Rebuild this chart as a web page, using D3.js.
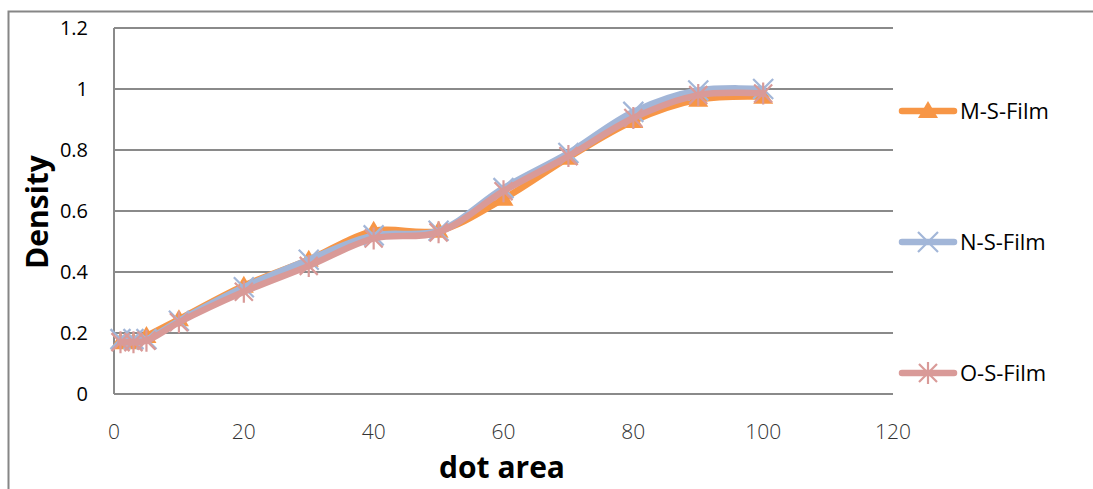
<!doctype html>
<html lang="en">
  <head>
    <meta charset="UTF-8" />
    <title>Density vs dot area</title>
    <script src="https://d3js.org/d3.v7.min.js"></script>
    <style>
      body {
        margin: 0;
        padding: 0;
        overflow: hidden;
        background: #fff;
        font-family: "Open Sans", Arial, sans-serif;
      }
      svg {
        display: block;
      }
    </style>
  </head>
  <body>
    <script>
      const dotArea = [1, 3, 5, 10, 20, 30, 40, 50, 60, 70, 80, 90, 100];
      const mFilm = [0.17, 0.17, 0.19, 0.245, 0.355, 0.44, 0.535, 0.535, 0.64, 0.775, 0.895, 0.965, 0.975];
      const nFilm = [0.18, 0.18, 0.18, 0.24, 0.35, 0.44, 0.52, 0.535, 0.675, 0.79, 0.925, 0.995, 1.0];
      const oFilm = [0.17, 0.17, 0.175, 0.235, 0.335, 0.42, 0.51, 0.53, 0.665, 0.78, 0.905, 0.98, 0.985];
      const seriesNames = ["M-S-Film", "N-S-Film", "O-S-Film"];
      const yTicks = [0, 0.2, 0.4, 0.6, 0.8, 1, 1.2];
      const xTicks = [0, 20, 40, 60, 80, 100, 120];

      const width = 1093;
      const height = 489;

      const series = [
        { name: seriesNames[0], values: mFilm, color: "#f79646", marker: "triangle" },
        { name: seriesNames[1], values: nFilm, color: "#a2b6d8", marker: "x" },
        { name: seriesNames[2], values: oFilm, color: "#d99a98", marker: "star" },
      ];

      const svg = d3.select("body").append("svg").attr("width", width).attr("height", height);

      // outer chart frame (right/bottom edges fall outside the picture)
      svg.append("rect")
        .attr("x", 8.5).attr("y", 11.5)
        .attr("width", width + 20).attr("height", height + 20)
        .attr("fill", "#fff").attr("stroke", "#868686").attr("stroke-width", 2);

      const x = d3.scaleLinear().domain([0, 120]).range([114, 893]);
      const y = d3.scaleLinear().domain([0, 1.2]).range([394, 28]);

      // gridlines
      svg.append("g")
        .selectAll("line")
        .data(yTicks)
        .join("line")
        .attr("x1", x(0)).attr("x2", x(120))
        .attr("y1", (d) => y(d)).attr("y2", (d) => y(d))
        .attr("stroke", "#8a8a8a").attr("stroke-width", 2);

      // y axis line
      svg.append("line")
        .attr("x1", x(0)).attr("x2", x(0))
        .attr("y1", y(1.2)).attr("y2", y(0))
        .attr("stroke", "#8a8a8a").attr("stroke-width", 2);

      // tick labels
      svg.append("g")
        .selectAll("text")
        .data(yTicks)
        .join("text")
        .attr("x", 88)
        .attr("y", (d) => y(d) + 7)
        .attr("text-anchor", "end")
        .attr("font-size", 20)
        .attr("fill", "#000")
        .text((d) => d3.format("~g")(d));

      svg.append("g")
        .selectAll("text")
        .data(xTicks)
        .join("text")
        .attr("x", (d) => x(d))
        .attr("y", 439)
        .attr("text-anchor", "middle")
        .attr("font-size", 21)
        .attr("font-weight", 300)
        .attr("fill", "#333")
        .text((d) => d);

      // axis titles
      svg.append("text")
        .attr("transform", "translate(48,212) rotate(-90)")
        .attr("text-anchor", "middle")
        .attr("font-size", 30)
        .attr("font-weight", "bold")
        .text("Density");

      svg.append("text")
        .attr("x", 502).attr("y", 478)
        .attr("text-anchor", "middle")
        .attr("font-size", 30)
        .attr("font-weight", "bold")
        .text("dot area");

      const line = d3.line()
        .x((d, i) => x(dotArea[i]))
        .y((d) => y(d))
        .curve(d3.curveCatmullRom.alpha(0.5));

      function drawMarker(g, type, color) {
        if (type === "triangle") {
          g.append("path")
            .attr("d", "M0,-10 L10,7 L-10,7 Z")
            .attr("fill", color);
        } else if (type === "x") {
          g.append("path")
            .attr("d", "M-10,-10 L10,10 M-10,10 L10,-10")
            .attr("stroke", color).attr("stroke-width", 2.2).attr("fill", "none");
        } else {
          g.append("path")
            .attr("d", "M-9,-9 L9,9 M-9,9 L9,-9 M0,-11 L0,11")
            .attr("stroke", color).attr("stroke-width", 2.2).attr("fill", "none");
        }
      }

      series.forEach((s) => {
        const g = svg.append("g");
        g.append("path")
          .datum(s.values)
          .attr("d", line)
          .attr("fill", "none")
          .attr("stroke", s.color)
          .attr("stroke-width", 6.5)
          .attr("stroke-linecap", "round")
          .attr("stroke-linejoin", "round");
        s.values.forEach((v, i) => {
          const m = g.append("g").attr("transform", `translate(${x(dotArea[i])},${y(v)})`);
          drawMarker(m, s.marker, s.color);
        });
      });

      // legend
      const legendY = [111, 242, 373];
      series.forEach((s, i) => {
        const g = svg.append("g").attr("transform", `translate(0,${legendY[i]})`);
        g.append("line")
          .attr("x1", 902).attr("x2", 954)
          .attr("stroke", s.color).attr("stroke-width", 6.5)
          .attr("stroke-linecap", "round");
        drawMarker(g.append("g").attr("transform", "translate(928,0)"), s.marker, s.color);
        g.append("text")
          .attr("x", 960).attr("y", 8)
          .attr("font-size", 22)
          .attr("fill", "#000")
          .text(s.name);
      });
    </script>
  </body>
</html>
